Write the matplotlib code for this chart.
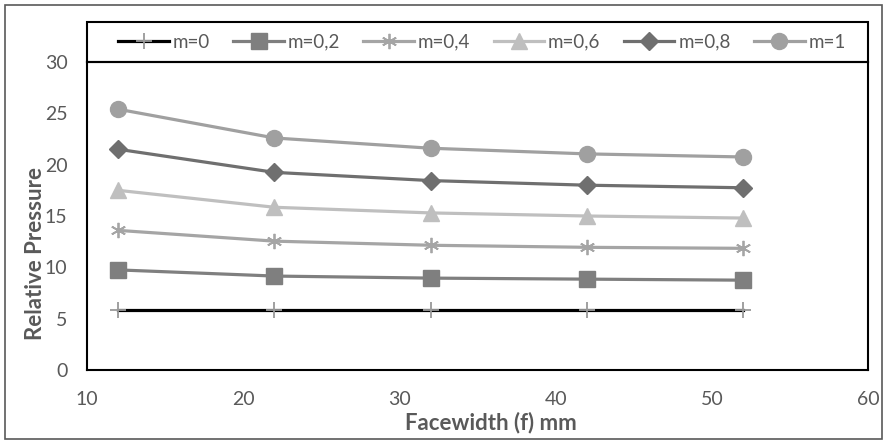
import matplotlib
matplotlib.use("Agg")
import matplotlib.pyplot as plt
from matplotlib.patches import Rectangle

plt.rcParams['font.family'] = ['Lato', 'DejaVu Sans']

facewidth = [12, 22, 32, 42, 52]
labels = ["m=0", "m=0,2", "m=0,4", "m=0,6", "m=0,8", "m=1"]
m0 = [5.8, 5.8, 5.8, 5.8, 5.8]
m02 = [9.75, 9.15, 8.95, 8.85, 8.75]
m04 = [13.6, 12.55, 12.15, 11.95, 11.85]
m06 = [17.5, 15.85, 15.3, 15.0, 14.8]
m08 = [21.5, 19.25, 18.45, 18.0, 17.75]
m1 = [25.4, 22.6, 21.6, 21.05, 20.75]
series = [m0, m02, m04, m06, m08, m1]

line_colors = ["#000000", "#7f7f7f", "#a5a5a5", "#bfbfbf", "#6f6f6f", "#a0a0a0"]
marker_colors = ["#999999", "#7f7f7f", "#a5a5a5", "#bfbfbf", "#6f6f6f", "#a0a0a0"]
markers = ["+", "s", "*6", "^", "D", "o"]
msizes = [11, 11, 11, 11, 9.5, 11.5]

W, H = 886, 442
fig = plt.figure(figsize=(W / 100, H / 100), dpi=100)
ax = fig.add_axes([87 / W, 1 - 370 / H, (868 - 87) / W, (370 - 62) / H])

handles = []
for ys, lab, lc, mc, mk, ms in zip(series, labels, line_colors, marker_colors, markers, msizes):
    kw = dict(color=lc, lw=2.3, marker=mk, markersize=ms, markerfacecolor=mc,
              markeredgecolor=mc, label=lab)
    if mk == "+":
        kw["markeredgewidth"] = 1.3
    if mk == "*6":
        kw["marker"] = (6, 2, 0)
        kw["markeredgewidth"] = 1.3
    h, = ax.plot(facewidth, ys, **kw)
    handles.append(h)

ax.set_xlim(10, 60)
ax.set_ylim(0, 30)
ax.set_xticks(range(10, 61, 10))
ax.set_yticks(range(0, 31, 5))
ax.tick_params(length=0, labelsize=14, labelcolor="#595959")
ax.tick_params(axis="y", pad=14)
ax.tick_params(axis="x", pad=15)
for s in ax.spines.values():
    s.set_linewidth(1.5)
    s.set_color("black")
ax.set_xlabel("Facewidth (f) mm", fontsize=16, fontweight="bold", color="#595959")
ax.xaxis.set_label_coords((491 - 87) / (868 - 87), (370 - 412) / (370 - 62))
ax.set_ylabel("Relative Pressure", fontsize=16, fontweight="bold", color="#595959")
ax.yaxis.set_label_coords((46 - 87) / (868 - 87), (370 - 254) / (370 - 62))

leg = fig.legend(handles=handles, loc="center", ncol=6,
                 bbox_to_anchor=(482 / W, 1 - 42 / H),
                 frameon=False, fontsize=13.5,
                 handlelength=2.7, handletextpad=0.2, borderaxespad=0, columnspacing=1.25)
for t in leg.get_texts():
    t.set_color("#595959")

fig.patches.append(Rectangle((87 / W, 1 - 62 / H), (868 - 87) / W, 40 / H,
                             transform=fig.transFigure, fill=False,
                             edgecolor="black", linewidth=1.5))
fig.patches.append(Rectangle((5 / W, 1 - 439 / H), (882 - 5) / W, (439 - 5) / H,
                             transform=fig.transFigure, fill=False,
                             edgecolor="#595959", linewidth=1.2))

fig.savefig("out.png", dpi=100)
